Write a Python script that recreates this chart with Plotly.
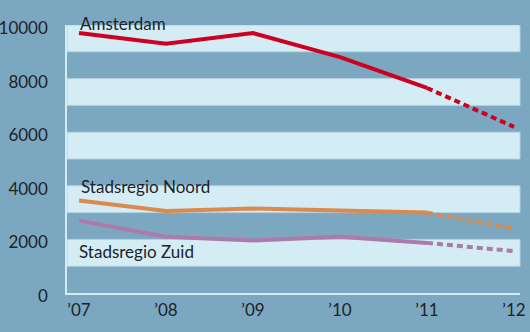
import plotly.graph_objects as go

years = [2007, 2008, 2009, 2010, 2011, 2012]
tick_text = ["\u201907", "\u201908", "\u201909", "\u201910", "\u201911", "\u201912"]
amsterdam = [9700, 9300, 9700, 8800, 7650, 6200]
noord = [3450, 3060, 3150, 3090, 3000, 2400]
zuid = [2700, 2100, 1960, 2100, 1870, 1560]
y_ticks = [0, 2000, 4000, 6000, 8000, 10000]
y_tick_text = ["0", "2000", "4000", "6000", "8000", "10000"]
band_starts = [1000, 3000, 5000, 7000, 9000]
Y_MAX = 10000

BG = "#7ba7c1"
LIGHT = "#d4ecf4"
TXT = "#1e2328"
FONT = "Lato"

series = [
    ("Amsterdam", amsterdam, "#cc0020"),
    ("Stadsregio Noord", noord, "#d98a4c"),
    ("Stadsregio Zuid", zuid, "#ad7aa9"),
]

fig = go.Figure()
for name, vals, col in series:
    fig.add_trace(go.Scatter(x=years[:5], y=vals[:5], mode="lines",
                             line=dict(color=col, width=4), showlegend=False,
                             hoverinfo="skip"))
    fig.add_trace(go.Scatter(x=years[4:], y=vals[4:], mode="lines",
                             line=dict(color=col, width=4, dash="6px,4px"),
                             showlegend=False, hoverinfo="skip"))

for b in band_starts:
    fig.add_shape(type="rect", xref="paper", yref="y", x0=0, x1=1, y0=b, y1=b + 1000,
                  fillcolor=LIGHT, line=dict(color="#b4d2e0", width=1), layer="below")

labels = [("Amsterdam", 2006.985, 10060), ("Stadsregio Noord", 2007.0, 3990),
          ("Stadsregio Zuid", 2006.98, 1550)]
for t, x, y in labels:
    fig.add_annotation(x=x, y=y / Y_MAX, xref="x", yref="paper", text=t,
                       showarrow=False, xanchor="left", yanchor="middle",
                       font=dict(family=FONT, size=17, color=TXT))

fig.update_layout(
    width=530, height=332,
    margin=dict(l=67, r=10, t=25, b=39, autoexpand=False),
    paper_bgcolor=BG, plot_bgcolor=BG,
    font=dict(family=FONT, size=17, color=TXT),
)
fig.update_xaxes(range=[2006.862, 2012.069], tickvals=years, ticktext=tick_text,
                 showgrid=False, zeroline=False, showline=True, linecolor=LIGHT,
                 linewidth=1.5, ticks="", ticklabelstandoff=1, automargin=False)
fig.update_yaxes(range=[0, Y_MAX], tickvals=y_ticks, ticktext=y_tick_text,
                 showgrid=False, zeroline=False,
                 showline=True, linecolor=LIGHT, linewidth=1.5, ticks="",
                 ticklabelstandoff=14, ticklabelshift=3, automargin=False)

fig.write_html("out.html")
